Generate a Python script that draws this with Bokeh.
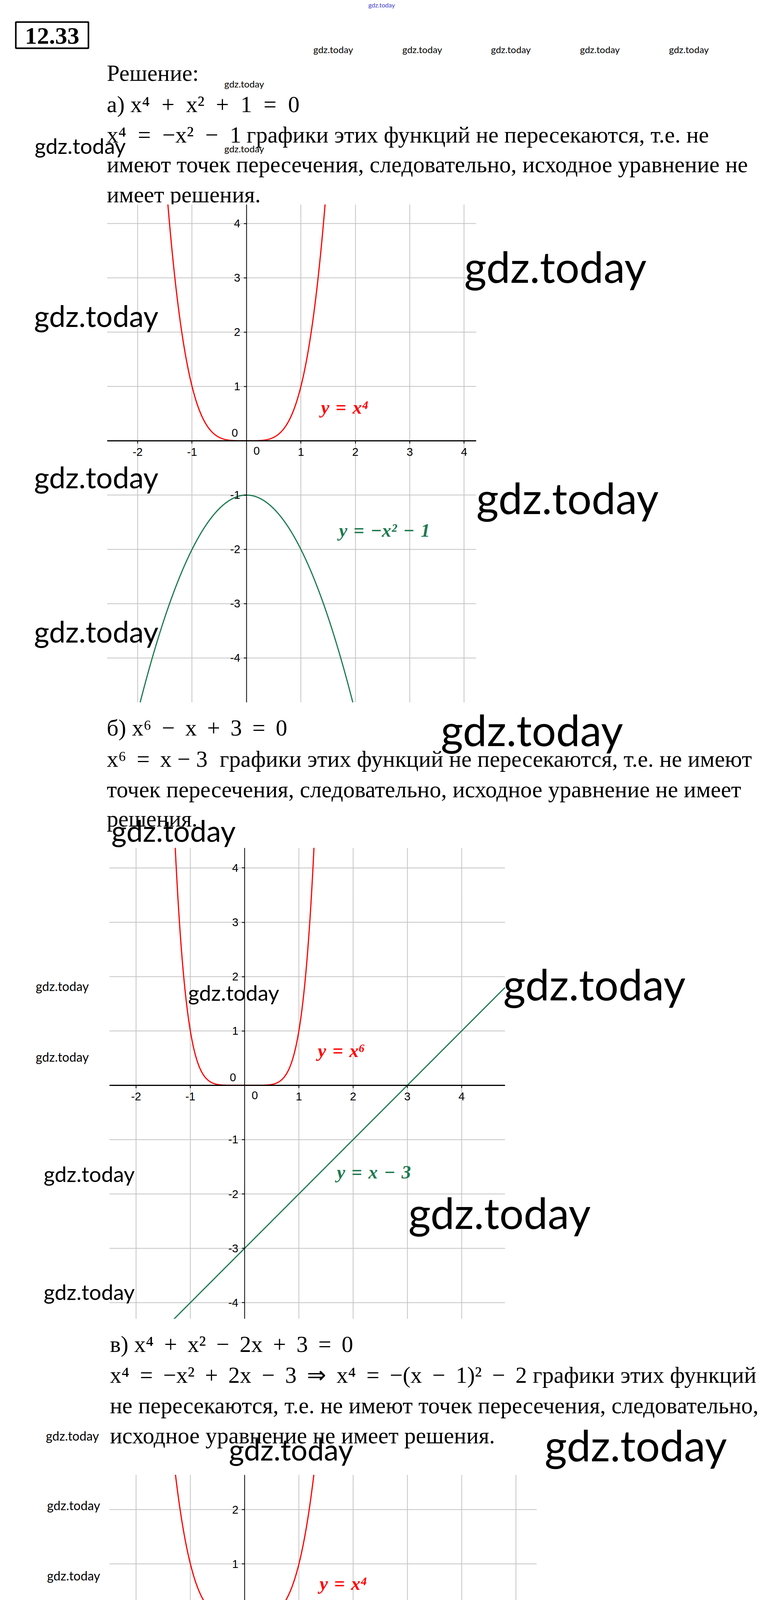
import numpy as np
from bokeh.plotting import figure
from bokeh.layouts import column
from bokeh.models import Range1d, LinearAxis, Grid, FixedTicker, Label
from bokeh.core.properties import value
from bokeh.embed import file_html
from bokeh.resources import INLINE

T = "\u2002"        # formula space (en space)
B = " \u2009"       # slightly narrower formula space
L = "\u2004"        # label space
# ---------------- data ----------------
# а) x^4 + x^2 + 1 = 0
a_x_ticks = [-2, -1, 1, 2, 3, 4]
a_y_ticks = [-4, -3, -2, -1, 1, 2, 3, 4]
a_x = np.linspace(-2.56, 4.22, 900)
a_red = a_x ** 4
a_green = -a_x ** 2 - 1
a_labels = [f"y{L}={L}x⁴", f"y{L}={L}−x²{L}−{L}1"]

# б) x^6 - x + 3 = 0
b_x_ticks = [-2, -1, 1, 2, 3, 4]
b_y_ticks = [-4, -3, -2, -1, 1, 2, 3, 4]
b_x = np.linspace(-2.49, 4.8, 900)
b_red = b_x ** 6
b_green = b_x - 3
b_labels = [f"y{L}={L}x⁶", f"y{L}={L}x{L}−{L}3"]

# в) x^4 + x^2 - 2x + 3 = 0
c_x_ticks = [-2, -1, 1, 2, 3, 4, 5]
c_y_ticks = [-4, -3, -2, -1, 1, 2]
c_x = np.linspace(-2.49, 5.38, 900)
c_red = c_x ** 4
c_green = -(c_x - 1) ** 2 - 2
c_labels = [f"y{L}={L}x⁴", f"y{L}={L}−(x{L}−{L}1)²{L}−{L}2"]

# г) x^6 - sqrt(x-1) = 0
d_x_ticks = [-2, -1, 1, 2, 3, 4, 5]
d_y_ticks = [-1, 1, 2, 3, 4]
d_x = np.linspace(-2.19, 5.54, 900)
d_red = d_x ** 6
d_xs = np.linspace(1.0, 5.54, 700)
d_green = np.sqrt(d_xs - 1.0)
d_labels = [f"y{L}={L}x⁶", f"y{L}={L}√x̅ ̅−̅ ̅1̅"]

SQ = "√x̅ ̅−̅ ̅1̅"
# (x, baseline, text) for each run of text
text_1 = [(281, 194, "Решение:"),
          (281, 274, f"а) x⁴{T}+{T}x²{T}+{T}1{T}={T}0"),
          (281, 352, f"x⁴{T}={T}−x²{T}−{T}1"),
          (639, 352, "графики этих функций не пересекаются, т.е. не"),
          (281, 428, "имеют точек пересечения, следовательно, исходное уравнение не"),
          (281, 505, "имеет решения.")]
text_2 = [(281, 1870, f"б) x⁶{B}−{B}x{B}+{B}3{B}={B}0"),
          (281, 1950, f"x⁶{B}={B}x − 3"),
          (570, 1950, "графики этих функций не пересекаются, т.е. не имеют"),
          (281, 2028, "точек пересечения, следовательно, исходное уравнение не имеет"),
          (281, 2103, "решения.")]
text_3 = [(289, 3448, f"в) x⁴{B}+{B}x²{B}−{B}2x{B}+{B}3{B}={B}0"),
          (289, 3527, f"x⁴{B}={B}−x²{B}+{B}2x{B}−{B}3{B}⇒{B}x⁴{B}={B}−(x{B}−{B}1)²{B}−{B}2"),
          (1372, 3527, "графики этих функций"),
          (289, 3605, "не пересекаются, т.е. не имеют точек пересечения, следовательно,"),
          (289, 3682, "исходное уравнение не имеет решения.")]
text_4 = [(289, 4893, f"г) x⁶{T}−{T}{SQ}{T}={T}0"),
          (289, 4980, f"x⁶{T}={T}{SQ}"),
          (611, 4980, "графики этих функций не пересекаются, т.е. не"),
          (289, 5058, "имеют точек пересечения, следовательно, исходное уравнение не"),
          (289, 5137, "имеет решения.")]

# ---------------- styling / layout ----------------
W = 1969
M = 8
SERIF = "Liberation Serif"
WMF = "Lato"
RED = "#ff0000"
GREEN = "#1c7a4f"
GRID = "#c4c4c4"
FS = "59px"

S1, S2, S3, S4, MID, MED, BIG = 24, 32, 26, 46, 55, 75, 110
WM = "gdz.today"


def base_fig(h, xr, yr):
    p = figure(width=W, height=h, x_range=xr, y_range=yr,
               x_axis_location=None, y_axis_location=None,
               toolbar_location=None, output_backend="svg",
               min_border_left=0, min_border_right=0,
               min_border_top=0, min_border_bottom=0)
    try:
        p.frame_align = False
    except Exception:
        pass
    p.outline_line_color = None
    p.background_fill_color = "white"
    p.border_fill_color = "white"
    p.grid.visible = False
    return p


def add_marks(p, marks, fx, fy):
    for (px, py, size, color) in marks:
        p.add_layout(Label(x=fx(px), y=fy(py), text=WM, text_font=WMF,
                           text_font_size=f"{size}px", text_color=color,
                           text_align="center", text_baseline="middle"))


def text_band(top, bottom, runs, marks):
    p = base_fig(bottom - top, Range1d(M, M + W), Range1d(bottom, top))
    if runs:
        p.text(x=[r[0] for r in runs], y=[r[1] for r in runs], text=[r[2] for r in runs],
               text_font=value(SERIF), text_font_size=FS, text_color="black",
               text_align="left", text_baseline="alphabetic")
    add_marks(p, marks, lambda v: v, lambda v: v)
    return p


def style_axis(ax, ticks):
    ax.axis_line_color = "black"
    ax.major_tick_line_color = "black"
    ax.major_tick_line_width = 2
    ax.major_tick_in = 0
    ax.major_tick_out = 7
    ax.minor_tick_in = 0
    ax.minor_tick_out = 0
    ax.major_label_text_font = "Liberation Sans"
    ax.major_label_text_font_size = "29px"
    ax.major_label_text_color = "black"
    ax.major_label_overrides = {t: str(t) for t in ticks}
    try:
        ax.major_label_background_fill_color = "white"
    except Exception:
        pass


def chart_band(frame, xr, yr, xticks, yticks, curves, labels, marks):
    left, top, right, bottom = frame
    x0, x1 = xr
    y0, y1 = yr
    sx = (right - left) / (x1 - x0)
    sy = (bottom - top) / (y1 - y0)
    X0 = x0 - (left - M) / sx
    X1 = x1 + (M + W - right) / sx
    p = base_fig(bottom - top, Range1d(X0, X1), Range1d(y0, y1))

    xax = LinearAxis(fixed_location=0, ticker=FixedTicker(ticks=xticks), bounds=(x0, x1))
    yax = LinearAxis(fixed_location=0, ticker=FixedTicker(ticks=yticks))
    style_axis(xax, xticks)
    style_axis(yax, yticks)
    xax.axis_line_width = 3
    xax.major_label_standoff = 12
    yax.axis_line_width = 2
    yax.major_label_standoff = 9
    # vertical grid lines (span full band height = chart height)
    p.add_layout(Grid(dimension=0, axis=xax, grid_line_color=GRID, grid_line_width=2))
    # horizontal grid lines, limited to the chart's x extent
    n = len(yticks)
    p.segment(x0=[x0] * n, x1=[x1] * n, y0=yticks, y1=yticks,
              line_color=GRID, line_width=2, level="underlay")
    p.add_layout(xax, "below")
    p.add_layout(yax, "left")

    for (cx, cy, col) in curves:
        p.line(cx, cy, line_color=col, line_width=3)

    # zero labels of the two axes
    p.text(x=[0, 0], y=[0, 0], text=["0", "0"], x_offset=[26, -30], y_offset=[26, -20],
           text_font=value("Liberation Sans"), text_font_size="29px", text_color="black",
           text_align="center", text_baseline="middle")

    for (lx, ly, txt, col) in labels:
        p.text(x=[lx], y=[ly], text=[txt], text_font=value(SERIF),
               text_font_style="bold italic", text_font_size="48px", text_color=col,
               text_align="left", text_baseline="middle")

    add_marks(p, marks, lambda v: x0 + (v - left) / sx, lambda v: y1 - (v - top) / sy)
    return p


# ---- band 1: header + а) text ----
t1 = text_band(M, 531, text_1,
               [(985, 20, 16, "#3a3acc"),
                (861, 134, S1, "black"), (1089, 134, S1, "black"), (1316, 134, S1, "black"),
                (1544, 134, S1, "black"), (1772, 134, S1, "black"),
                (633, 222, S1, "black"), (633, 388, S1, "black"),
                (213, 380, MID, "black")])
t1.quad(left=[48], right=[234], top=[64], bottom=[131], fill_color=None,
        line_color="black", line_width=4)
t1.text(x=[141], y=[99], text=["12.33"], text_font=value(SERIF), text_font_style="bold",
        text_font_size="62px", text_align="center", text_baseline="middle", text_color="black")

# ---- chart а ----
ca = chart_band((282, 531, 1227, 1806), (-2.56, 4.22), (-4.82, 4.35), a_x_ticks, a_y_ticks,
                [(a_x, a_red, RED), (a_x, a_green, GREEN)],
                [(1.37, 0.62, a_labels[0], RED), (1.70, -1.65, a_labels[1], GREEN)],
                [(254, 815, MED, "black"), (1430, 688, BIG, "black"), (254, 1228, MED, "black"),
                 (1461, 1280, BIG, "black"), (254, 1623, MED, "black")])

# ---- band 2: б) text ----
t2 = text_band(1806, 2178, text_2,
               [(1370, 1874, BIG, "black"), (452, 2133, MED, "black")])

# ---- chart б ----
cb = chart_band((288, 2178, 1301, 3384), (-2.49, 4.8), (-4.30, 4.37), b_x_ticks, b_y_ticks,
                [(b_x, b_red, RED), (b_x, b_green, GREEN)],
                [(1.35, 0.64, b_labels[0], RED), (1.70, -1.60, b_labels[1], GREEN)],
                [(167, 2532, S2, "black"), (606, 2548, MID, "black"), (1530, 2525, BIG, "black"),
                 (167, 2713, S2, "black"), (236, 3012, MID, "black"), (1287, 3110, BIG, "black"),
                 (236, 3314, MID, "black")])

# ---- band 3: в) text ----
t3 = text_band(3384, 3783, text_3,
               [(193, 3683, S2, "black"), (753, 3717, MED, "black"), (1636, 3705, BIG, "black")])

# ---- chart в ----
cc = chart_band((288, 3783, 1382, 4822), (-2.49, 5.38), (-4.83, 2.64), c_x_ticks, c_y_ticks,
                [(c_x, c_red, RED), (c_x, c_green, GREEN)],
                [(1.38, 0.64, c_labels[0], RED), (1.70, -1.68, c_labels[1], GREEN)],
                [(196, 3861, S2, "black"), (196, 4041, S2, "black"), (196, 4220, S2, "black"),
                 (196, 4400, S2, "black"), (196, 4581, S2, "black"), (196, 4759, S2, "black"),
                 (752, 4230, MED, "black"), (1650, 4275, BIG, "black"), (752, 4757, MED, "black")])

# ---- band 4: г) text ----
t4 = text_band(4822, 5207, text_4,
               [(1660, 4892, BIG, "black"), (190, 5130, S4, "black"), (776, 5162, 72, "black")])

# ---- chart г ----
cd = chart_band((280, 5207, 1355, 6041), (-2.19, 5.54), (-1.68, 4.30), d_x_ticks, d_y_ticks,
                [(d_x, d_red, RED), (d_xs, d_green, GREEN)],
                [(1.53, 2.61, d_labels[0], RED), (2.15, 0.67, d_labels[1], GREEN)],
                [(191, 5413, S4, "black"), (1650, 5447, BIG, "black"), (160, 5649, S3, "black"),
                 (160, 5793, S3, "black"), (160, 5937, S3, "black"), (705, 5885, MED, "black")])

# ---- band 5: bottom blank ----
t5 = text_band(6041, 6102, [], [])

layout = column(t1, ca, t2, cb, t3, cc, t4, cd, t5, spacing=0)
open("out.html", "w").write(file_html(layout, INLINE))
